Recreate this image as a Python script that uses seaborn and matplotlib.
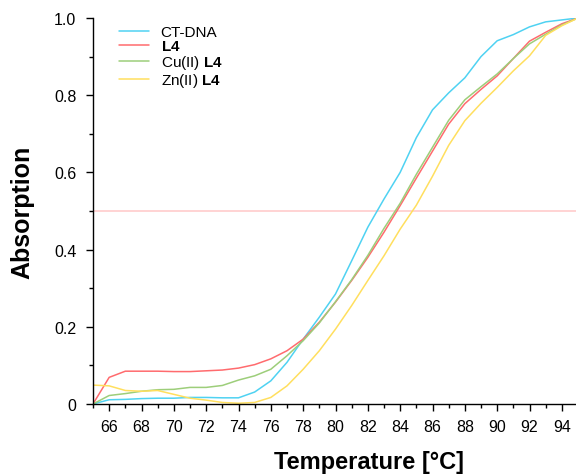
import matplotlib
matplotlib.use("Agg")
import matplotlib.pyplot as plt
import seaborn as sns
import pandas as pd
from matplotlib.ticker import MultipleLocator, FuncFormatter

# melting curves, 65..95 °C in 1 degree steps
temperature = list(range(65, 96))

ct_dna = [0.0, 0.011, 0.012, 0.014, 0.015, 0.015, 0.017, 0.017, 0.016, 0.016,
          0.031, 0.06, 0.108, 0.168, 0.225, 0.285, 0.371, 0.458, 0.531, 0.60,
          0.69, 0.762, 0.806, 0.845, 0.90, 0.941, 0.957, 0.977, 0.99, 0.995, 1.0]
l4 = [0.0, 0.069, 0.085, 0.085, 0.085, 0.084, 0.084, 0.086, 0.088, 0.093,
      0.102, 0.117, 0.138, 0.168, 0.212, 0.264, 0.32, 0.38, 0.445, 0.514,
      0.585, 0.655, 0.725, 0.778, 0.815, 0.85, 0.895, 0.94, 0.963, 0.985, 1.0]
cu_l4 = [0.0, 0.022, 0.027, 0.033, 0.037, 0.038, 0.043, 0.043, 0.048, 0.062,
         0.073, 0.09, 0.125, 0.164, 0.21, 0.265, 0.322, 0.385, 0.455, 0.52,
         0.595, 0.665, 0.735, 0.788, 0.822, 0.855, 0.895, 0.933, 0.958, 0.982, 1.0]
zn_l4 = [0.049, 0.047, 0.035, 0.033, 0.035, 0.025, 0.015, 0.01, 0.004, 0.002,
         0.004, 0.017, 0.047, 0.09, 0.138, 0.194, 0.255, 0.32, 0.384, 0.453,
         0.515, 0.59, 0.67, 0.734, 0.779, 0.82, 0.863, 0.902, 0.955, 0.98, 1.0]

labels = ["CT-DNA", r"$\mathbf{L4}$", r"Cu(II) $\mathbf{L4}$", r"Zn(II) $\mathbf{L4}$"]
colors = ["#4fd2f2", "#ff6b6e", "#9dce7a", "#ffdf5e"]

df = pd.concat([
    pd.DataFrame({"T": temperature, "A": vals, "sample": lab})
    for vals, lab in zip([ct_dna, l4, cu_l4, zn_l4], labels)
])

sns.set_style("ticks")
plt.rcParams["font.family"] = ["Liberation Sans", "DejaVu Sans"]
plt.rcParams["mathtext.fontset"] = "custom"
plt.rcParams["mathtext.rm"] = "Liberation Sans"
plt.rcParams["mathtext.bf"] = "Liberation Sans:bold"
for key in ["text.color", "axes.labelcolor", "xtick.color", "ytick.color"]:
    plt.rcParams[key] = "black"

fig = plt.figure(figsize=(5.76, 4.77), dpi=100)
ax = fig.add_axes([93 / 576, 1 - 405 / 477, 485 / 576, 386 / 477])

ax.axhline(0.5, color="#ffcccc", lw=1.2, zorder=0)
sns.lineplot(data=df, x="T", y="A", hue="sample", palette=colors,
             lw=1.1, ax=ax, legend=True)

ax.set_xlim(65, 95)
ax.set_ylim(0, 1.0)
ax.xaxis.set_minor_locator(MultipleLocator(1))
ax.set_xticks(range(66, 95, 2))
ax.yaxis.set_major_locator(MultipleLocator(0.2))
ax.yaxis.set_minor_locator(MultipleLocator(0.1))
ax.yaxis.set_major_formatter(FuncFormatter(lambda v, p: "0" if abs(v) < 1e-9 else f"{v:.1f}"))
ax.tick_params(axis="both", which="major", labelsize=11.5, length=5, width=1)
ax.tick_params(axis="both", which="minor", length=3, width=1)
ax.tick_params(axis="x", which="both", pad=6)
ax.tick_params(axis="y", which="both", pad=7)

for s in ["left", "bottom"]:
    ax.spines[s].set_color("black")
    ax.spines[s].set_linewidth(1)
sns.despine(ax=ax)

ax.set_xlabel("Temperature [°C]", fontsize=17, fontweight="bold")
ax.xaxis.set_label_coords((369 - 93) / 485, -(463 - 405) / 386)
ax.set_ylabel("Absorption", fontsize=18, fontweight="bold")
ax.yaxis.set_label_coords(-(93 - 22) / 485, 0.5)
ax.xaxis.label.set_va("center")
ax.yaxis.label.set_va("center")

leg = ax.legend(loc="upper left", bbox_to_anchor=(0.04, 0.997), frameon=False,
                fontsize=11, handlelength=2.0, handletextpad=0.75,
                labelspacing=0.0, borderaxespad=0.0)

fig.savefig("out.png", dpi=100)
